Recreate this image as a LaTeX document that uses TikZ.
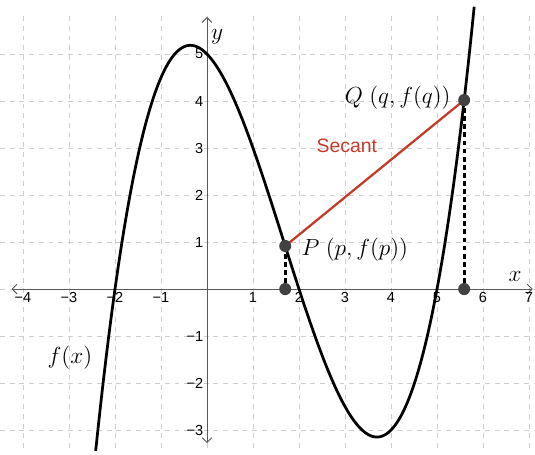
\documentclass[tikz,border=0pt]{standalone}
\usepackage{fontspec}
\setsansfont{Liberation Sans}
\usetikzlibrary{arrows.meta}
\definecolor{secantred}{RGB}{196,58,40}
\definecolor{ptgray}{RGB}{66,66,66}
\definecolor{gridgray}{RGB}{205,205,205}
\definecolor{axisgray}{RGB}{90,90,90}
\begin{document}
\begin{tikzpicture}[x=1cm,y=1.0217cm,
		ticklabel/.style={font=\sffamily\small,inner sep=1.5pt},
		mathlabel/.style={font=\fontsize{13.5}{16}\selectfont},
		axisline/.style={axisgray,line width=0.6pt,{Straight Barb[length=3pt,width=6pt]}-{Straight Barb[length=3pt,width=6pt]}}]
	\useasboundingbox (-4.5,-3.53) rectangle (7.13,6.15);
	% grid
	\foreach \i in {-4,...,7}
		\draw[gridgray,dashed,line width=0.5pt] (\i,-3.38) -- (\i,5.85);
	\foreach \j in {-3,...,5}
		\draw[gridgray,dashed,line width=0.5pt] (-4.5,\j) -- (7.13,\j);
	% axes
	\coordinate (xl) at (-4.25,0);
	\coordinate (xr) at (7.08,0);
	\coordinate (yb) at (0,-3.28);
	\coordinate (yt) at (0,5.79);
	\draw[axisline] (xl) -- (xr);
	\draw[axisline] (yb) -- (yt);
	\foreach \i/\t in {-4/−4,-3/−3,-2/−2,-1/−1,1/1,2/2,3/3,4/4,5/5,6/6,7/7}
		\node[ticklabel,below] (tx\i) at (\i,-0.02) {\t};
	\foreach \j/\t in {-3/−3,-2/−2,-1/−1,1/1,2/2,3/3,4/4,5/5}
		\node[ticklabel,left] (ty\j) at (-0.02,\j) {\t};
	\node[mathlabel] (xlab) at (6.7,0.26) {$x$};
	\node[mathlabel] (ylab) at (0.22,5.36) {$y$};
	% curve
	\draw[line width=1.7pt,domain=-2.42:5.81,samples=150,smooth]
		plot (\x,{0.25*(\x+2)*(\x-2)*(\x-5)});
	\node[mathlabel] (flab) at (-2.98,-1.45) {$f(x)$};
	% secant
	\coordinate (P) at (1.7,0.916);
	\coordinate (Q) at (5.59,4.02);
	\coordinate (P0) at (1.7,0);
	\coordinate (Q0) at (5.59,0);
	\draw[dash pattern=on 3pt off 2pt,line width=2pt] (P) -- (P0);
	\draw[dash pattern=on 3pt off 2pt,line width=2pt] (Q) -- (Q0);
	\draw[secantred,line width=1.4pt] (P) -- (Q);
	\foreach \c in {P,Q,P0,Q0}
		\fill[ptgray] (\c) circle (0.13);
	\node[mathlabel,right] (plab) at (1.93,0.83) {$P\;(p,f(p))$};
	\node[mathlabel,left] (qlab) at (5.42,4.08) {$Q\;(q,f(q))$};
	\node[secantred,font=\sffamily\large] (sec) at (3.04,3.04) {Secant};
\end{tikzpicture}
\end{document}
